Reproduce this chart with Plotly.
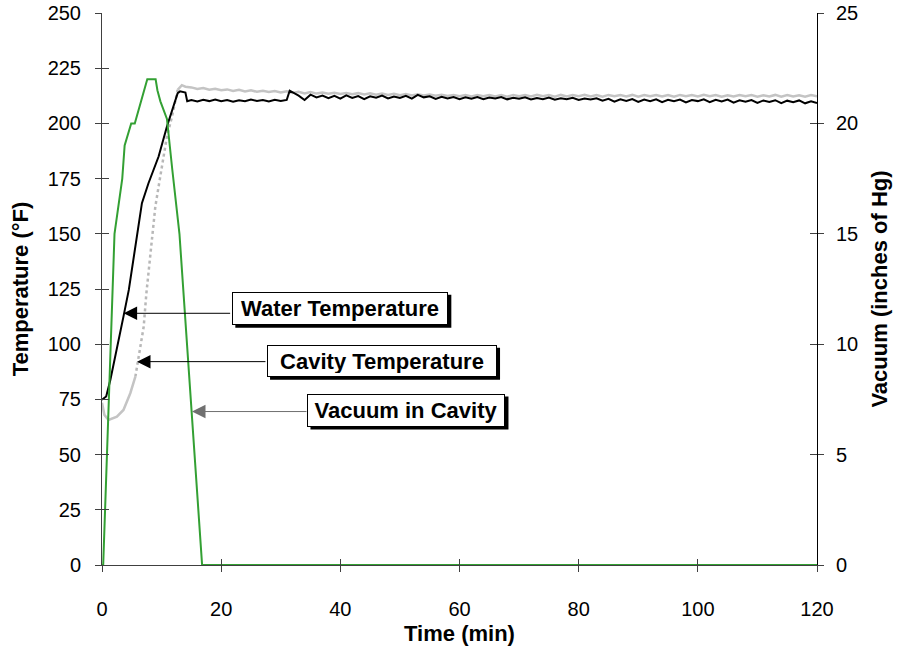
import plotly.graph_objects as go

# ---------------- data ----------------
vac_time = [0, 0.2, 2.1, 3.4, 3.8, 4.9, 5.5, 7.6, 9.0, 9.3, 9.8, 10.9, 11.8, 13.0, 16.8, 120]
vac_val = [0, 0, 15.0, 17.5, 19.0, 20.0, 20.0, 22.0, 22.0, 21.5, 21.0, 20.2, 17.9, 15.0, 0, 0]

water_time = [0, 0.7, 1.4, 2.5, 3.6, 4.5, 5.3, 6.2, 6.7, 7.8, 9.5, 10.9, 12.7, 13.1, 13.7, 14.0, 14.3,
              15, 16, 17, 18, 19, 20, 21, 22, 23, 24, 25, 26, 27, 28, 29, 30, 31, 31.5,
              32, 33, 34, 35, 36, 37, 38, 39, 40, 41, 42, 43, 44, 45, 46, 47, 48, 49, 50,
              51, 52, 53, 54, 55, 56, 57, 58, 59, 60, 61, 62, 63, 64, 65, 66, 67, 68, 69, 70,
              71, 72, 73, 74, 75, 76, 77, 78, 79, 80, 81, 82, 83, 84, 85, 86, 87, 88, 89, 90,
              91, 92, 93, 94, 95, 96, 97, 98, 99, 100, 101, 102, 103, 104, 105, 106, 107, 108,
              109, 110, 111, 112, 113, 114, 115, 116, 117, 118, 119, 120]
water_temp = [74.8, 76.3, 83.8, 97.4, 112.5, 124.6, 139.7, 154.8, 163.9, 172.9, 185.0, 198.6, 213.7,
              214.5, 214.2, 214.0, 210.0,
              210.6, 209.9, 210.7, 210.1, 210.8, 210.0, 210.6, 209.8, 210.5, 210.0, 210.8, 210.2,
              210.6, 209.9, 210.7, 210.1, 210.6, 214.8,
              214.0, 212.6, 210.6, 213.0, 211.8, 212.6, 211.4, 212.5, 211.2, 212.7, 211.5, 212.4,
              211.0, 212.3, 211.6, 212.6, 211.3, 212.2, 211.5,
              212.5, 211.2, 212.9, 211.8, 212.3, 211.1, 212.0, 211.3, 211.9, 211.0, 211.8, 211.2,
              211.9, 211.0, 211.7, 211.3, 211.9, 210.9, 211.6, 211.2,
              211.8, 210.8, 211.5, 211.0, 211.7, 210.7, 211.4, 210.9, 211.6, 210.6, 211.3, 210.8,
              211.4, 210.3, 211.1, 209.8, 210.9, 210.2, 211.0, 209.7,
              210.8, 210.1, 210.9, 209.6, 210.7, 210.0, 210.8, 209.5, 210.6, 210.1, 210.9, 209.6,
              210.7, 209.9, 210.8, 209.4, 210.5, 209.8,
              210.6, 209.3, 210.4, 209.7, 210.5, 209.2, 210.3, 209.6, 210.4, 209.1, 210.0, 209.2]

cavity_time = [0, 0.4, 1.1, 2.5, 3.6, 4.75, 5.6, 6.4, 7.0, 7.45, 7.8, 8.4, 8.95, 9.5, 10.1, 10.9,
               11.75, 12.3, 12.7, 13.1, 13.4, 14,
               15, 16, 17, 18, 19, 20, 21, 22, 23, 24, 25, 26, 27, 28, 29, 30,
               31, 32, 33, 34, 35, 36, 37, 38, 39, 40, 41, 42, 43, 44, 45, 46, 47, 48, 49, 50,
               51, 52, 53, 54, 55, 56, 57, 58, 59, 60, 61, 62, 63, 64, 65, 66, 67, 68, 69, 70,
               71, 72, 73, 74, 75, 76, 77, 78, 79, 80, 81, 82, 83, 84, 85, 86, 87, 88, 89, 90,
               91, 92, 93, 94, 95, 96, 97, 98, 99, 100, 101, 102, 103, 104, 105, 106, 107, 108,
               109, 110, 111, 112, 113, 114, 115, 116, 117, 118, 119, 120]
cavity_temp = [73.5, 68.0, 65.7, 67.2, 70.2, 77.8, 85.3, 97.4, 108.0, 123.1, 132.2, 147.3, 162.3,
               171.4, 180.5, 194.1, 203.1, 210.7, 215.2, 216.7, 217.3, 216.6,
               216.3, 215.6, 216.0, 215.3, 215.7, 215.0, 215.4, 214.7, 215.2, 214.5, 215.0, 214.3,
               214.8, 214.2, 214.7, 214.0,
               214.5, 213.8, 214.3, 213.6, 214.2, 213.5, 214.0, 213.4, 213.9, 213.3, 213.8, 213.2,
               213.7, 213.1, 213.6, 213.0, 213.5, 212.9, 213.4, 212.8,
               213.3, 212.7, 213.2, 212.6, 213.1, 212.5, 213.0, 212.4, 212.9, 212.3, 212.9, 212.2,
               212.8, 212.3, 212.9, 212.2, 212.8, 212.1, 212.9, 212.3,
               212.8, 212.2, 213.0, 212.3, 212.8, 212.1, 212.9, 212.2, 212.8, 212.3, 213.0, 212.2,
               212.8, 212.1, 212.9, 212.3, 212.8, 212.2, 212.9, 212.1,
               212.8, 212.3, 212.9, 212.2, 212.8, 212.1, 212.9, 212.3, 212.8, 212.2, 213.0, 212.3,
               212.8, 212.1, 212.7, 212.2, 212.9, 212.3,
               212.8, 212.1, 212.7, 212.2, 212.9, 212.1, 212.8, 212.2, 212.7, 212.1, 212.8, 212.3]

x_ticks = [0, 20, 40, 60, 80, 100, 120]
temp_ticks = [0, 25, 50, 75, 100, 125, 150, 175, 200, 225, 250]
vac_ticks = [0, 5, 10, 15, 20, 25]

labels = ["Water Temperature", "Cavity Temperature", "Vacuum in Cavity"]

FONT = "Arial, Liberation Sans, sans-serif"
GREEN = "#33a033"
GRAY = "#c4c4c4"

fig = go.Figure()

# vacuum (right axis)
fig.add_trace(go.Scatter(x=vac_time, y=vac_val, yaxis="y2", mode="lines",
                         line=dict(color=GREEN, width=2), name=labels[2], showlegend=False))

# cavity temperature: solid at start/plateau, dotted on the steep rise
i1 = cavity_time.index(5.6)
i2 = cavity_time.index(12.7)
fig.add_trace(go.Scatter(x=cavity_time[:i1 + 1], y=cavity_temp[:i1 + 1], mode="lines",
                         line=dict(color=GRAY, width=2.5), showlegend=False))
fig.add_trace(go.Scatter(x=cavity_time[i1:i2 + 1], y=cavity_temp[i1:i2 + 1], mode="lines",
                         line=dict(color="#b8b8b8", width=2.5, dash="dot"), showlegend=False))
fig.add_trace(go.Scatter(x=cavity_time[i2:], y=cavity_temp[i2:], mode="lines",
                         line=dict(color=GRAY, width=2.5), name=labels[1], showlegend=False))

# water temperature
fig.add_trace(go.Scatter(x=water_time, y=water_temp, mode="lines",
                         line=dict(color="black", width=2), name=labels[0], showlegend=False))

# empty helper traces so the "inside" tick axes (ticks crossing the axis lines) are drawn
fig.add_trace(go.Scatter(x=[None], y=[None], xaxis="x2", yaxis="y3", showlegend=False,
                         hoverinfo="skip"))
fig.add_trace(go.Scatter(x=[None], y=[None], xaxis="x2", yaxis="y4", showlegend=False,
                         hoverinfo="skip"))

tickfont = dict(family=FONT, size=20, color="black")
titlefont = dict(family=FONT, size=22, color="black", weight="bold")

fig.update_layout(
    width=904, height=649,
    margin=dict(l=102, r=87, t=13, b=84, autoexpand=False),
    paper_bgcolor="white", plot_bgcolor="white",
    showlegend=False,
    xaxis=dict(range=[0, 120], tickvals=x_ticks, showgrid=False, zeroline=False,
               showline=True, linecolor="#404040", linewidth=1, automargin=False,
               ticks="outside", ticklen=6, tickcolor="#404040", tickwidth=1,
               tickfont=tickfont, ticklabelstandoff=20,
               title=dict(text="Time (min)", font=titlefont, standoff=6)),
    xaxis2=dict(range=[0, 120], tickvals=x_ticks, overlaying="x", anchor="y", side="bottom",
                showgrid=False, zeroline=False, showline=False, ticks="inside", ticklen=6,
                automargin=False, tickcolor="#404040", showticklabels=False),
    yaxis=dict(range=[0, 250], tickvals=temp_ticks, showgrid=False, zeroline=False,
               showline=True, linecolor="#404040", linewidth=1, automargin=False,
               ticks="outside", ticklen=6, tickcolor="#404040",
               tickfont=tickfont, ticklabelstandoff=10,
               title=dict(text="Temperature (°F)", font=titlefont, standoff=12)),
    yaxis2=dict(range=[0, 25], tickvals=vac_ticks, overlaying="y", side="right",
                showgrid=False, zeroline=False, showline=True, linecolor="black", linewidth=1,
                ticks="outside", ticklen=6, tickcolor="#404040", automargin=False,
                tickfont=tickfont, ticklabelstandoff=8,
                title=dict(text="Vacuum (inches of Hg)", font=titlefont, standoff=14)),
    yaxis3=dict(range=[0, 250], tickvals=temp_ticks, overlaying="y", anchor="x", side="left",
                showgrid=False, zeroline=False, showline=False, ticks="inside", ticklen=7,
                automargin=False, tickcolor="#404040", showticklabels=False),
    yaxis4=dict(range=[0, 25], tickvals=vac_ticks, overlaying="y", anchor="x", side="right",
                showgrid=False, zeroline=False, showline=False, ticks="inside", ticklen=7,
                automargin=False, tickcolor="#404040", showticklabels=False),
)

# callouts: arrow tip (time, °F), label, box centre (time, °F), arrow colour, tail offset px, box w, h px
callouts = [
    (3.63, 114.0, labels[0], 40.0, 116.3, "black", 108, 216, 33),
    (5.87, 92.1, labels[1], 47.0, 92.5, "black", 130, 230, 32),
    (15.1, 69.5, labels[2], 51.1, 70.2, "#707070", 116, 198, 33),
]
annfont = dict(family=FONT, size=22, color="black", weight="bold")
for tx, ty, lab, bx, by, col, off, w, h in callouts:
    # arrow
    fig.add_annotation(x=tx, y=ty, xref="x", yref="y", text="", showarrow=True,
                       ax=off, ay=0, axref="pixel", ayref="pixel",
                       arrowhead=2, arrowsize=2.7, arrowwidth=1, arrowcolor=col)
    # drop shadow
    fig.add_shape(type="rect", xref="x", yref="y", xsizemode="pixel", ysizemode="pixel",
                  xanchor=bx, yanchor=by,
                  x0=-w / 2 + 3, x1=w / 2 + 3, y0=-h / 2 - 3, y1=h / 2 - 3,
                  fillcolor="black", line=dict(width=0), layer="above")
    # box
    fig.add_annotation(x=bx, y=by, xref="x", yref="y", text=lab, showarrow=False,
                       font=annfont, bgcolor="white", bordercolor="black",
                       borderwidth=1, borderpad=3, width=w - 8, height=h - 8)

fig.write_html("out.html")
